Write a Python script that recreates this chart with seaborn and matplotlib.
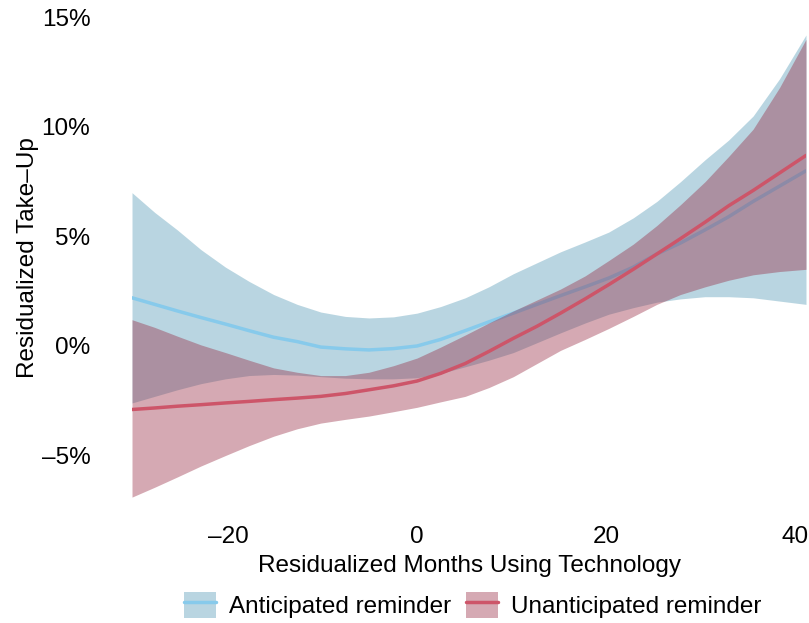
import pandas as pd
import matplotlib
matplotlib.use("Agg")
import matplotlib.pyplot as plt
import seaborn as sns
from matplotlib.patches import Patch
from matplotlib.lines import Line2D

# values (y in percent)
months = [-30.2, -27.8, -25.4, -22.9, -20.3, -17.8, -15.2, -12.7, -10.2, -7.6,
          -5.1, -2.5, 0, 2.5, 5.1, 7.6, 10.2, 12.7, 15.2, 17.8,
          20.3, 22.9, 25.4, 27.9, 30.5, 33.0, 35.6, 38.4, 41.2]

ant_fit = [2.2, 1.9, 1.6, 1.3, 1.0, 0.7, 0.4, 0.2, -0.05, -0.13,
           -0.18, -0.12, 0.0, 0.3, 0.7, 1.1, 1.5, 1.9, 2.3, 2.7,
           3.1, 3.6, 4.2, 4.7, 5.3, 5.9, 6.6, 7.3, 8.0]
ant_hi = [7.0, 6.1, 5.3, 4.4, 3.6, 2.95, 2.35, 1.9, 1.55, 1.35,
          1.28, 1.33, 1.5, 1.8, 2.2, 2.7, 3.3, 3.8, 4.3, 4.75,
          5.2, 5.85, 6.6, 7.5, 8.5, 9.4, 10.5, 12.2, 14.2]
ant_lo = [-2.6, -2.3, -2.0, -1.72, -1.5, -1.35, -1.3, -1.33, -1.4, -1.47,
          -1.5, -1.5, -1.45, -1.25, -0.95, -0.65, -0.3, 0.15, 0.6, 1.05,
          1.45, 1.75, 2.0, 2.15, 2.25, 2.25, 2.2, 2.05, 1.9]

una_fit = [-2.9, -2.83, -2.75, -2.68, -2.6, -2.53, -2.45, -2.38, -2.3, -2.17,
           -2.0, -1.82, -1.6, -1.25, -0.8, -0.25, 0.35, 0.9, 1.5, 2.15,
           2.8, 3.5, 4.2, 4.9, 5.65, 6.4, 7.1, 7.9, 8.7]
una_hi = [1.2, 0.85, 0.45, 0.05, -0.3, -0.65, -1.0, -1.2, -1.35, -1.35,
          -1.2, -0.9, -0.55, -0.05, 0.5, 1.05, 1.6, 2.1, 2.6, 3.2,
          3.9, 4.65, 5.5, 6.45, 7.5, 8.65, 9.9, 11.8, 14.0]
una_lo = [-6.9, -6.45, -5.98, -5.48, -5.0, -4.55, -4.12, -3.78, -3.52, -3.35,
          -3.2, -3.0, -2.8, -2.55, -2.3, -1.9, -1.4, -0.8, -0.2, 0.3,
          0.8, 1.35, 1.9, 2.35, 2.7, 3.0, 3.25, 3.4, 3.5]

labels = ["Anticipated reminder", "Unanticipated reminder"]
y_ticks = [-5, 0, 5, 10, 15]
x_ticks = [-20, 0, 20, 40]

ant = pd.DataFrame({"x": months, "fit": ant_fit, "lo": ant_lo, "hi": ant_hi})
una = pd.DataFrame({"x": months, "fit": una_fit, "lo": una_lo, "hi": una_hi})

sns.set_theme(style="white")
plt.rcParams["font.family"] = ["Liberation Sans", "DejaVu Sans"]
plt.rcParams["text.color"] = "black"
plt.rcParams["axes.labelcolor"] = "black"

fig = plt.figure(figsize=(8.09, 6.23), dpi=100)
ax = fig.add_axes([132 / 809, 1 - 505 / 623, 674 / 809, 495 / 623])

blue_fill = "#5298B4"
blue_line = "#87CAEB"
red_fill = "#962A41"
red_line = "#CD5569"

ax.fill_between(ant["x"], ant["lo"], ant["hi"], color=blue_fill, alpha=0.4, lw=0, zorder=1)
sns.lineplot(data=ant, x="x", y="fit", color=blue_line, lw=2.5, ax=ax, zorder=2)
ax.fill_between(una["x"], una["lo"], una["hi"], color=red_fill, alpha=0.4, lw=0, zorder=3)
sns.lineplot(data=una, x="x", y="fit", color=red_line, lw=2.5, ax=ax, zorder=4)

fs = 17.5
ax.set_xlim(-30.2, 41.2)
ax.set_ylim(-7.26, 15.34)
ax.set_xticks(x_ticks)
ax.set_xticklabels([f"{t}".replace("-", "\u2013") for t in x_ticks])
ax.set_yticks(y_ticks)
ax.set_yticklabels([f"{t}%".replace("-", "\u2013") for t in y_ticks])
ax.tick_params(axis="both", length=0, labelsize=fs, colors="black")
ax.tick_params(axis="y", pad=30)
ax.tick_params(axis="x", pad=15)
for s in ax.spines.values():
    s.set_visible(False)

ax.set_xlabel("Residualized Months Using Technology", fontsize=fs, labelpad=5)
ax.set_ylabel("Residualized Take\u2013Up", fontsize=fs, labelpad=2)

handles = [
    (Patch(facecolor=blue_fill, alpha=0.4, lw=0), Line2D([], [], color=blue_line, lw=2.5)),
    (Patch(facecolor=red_fill, alpha=0.4, lw=0), Line2D([], [], color=red_line, lw=2.5)),
]
fig.legend(handles, labels, loc="center", bbox_to_anchor=(473 / 809, 1 - 605 / 623),
           ncol=2, frameon=False, fontsize=fs, handlelength=1.3, handleheight=1.3,
           handletextpad=0.55, columnspacing=0.6, borderpad=0, borderaxespad=0)

fig.savefig("out.png", dpi=100)
